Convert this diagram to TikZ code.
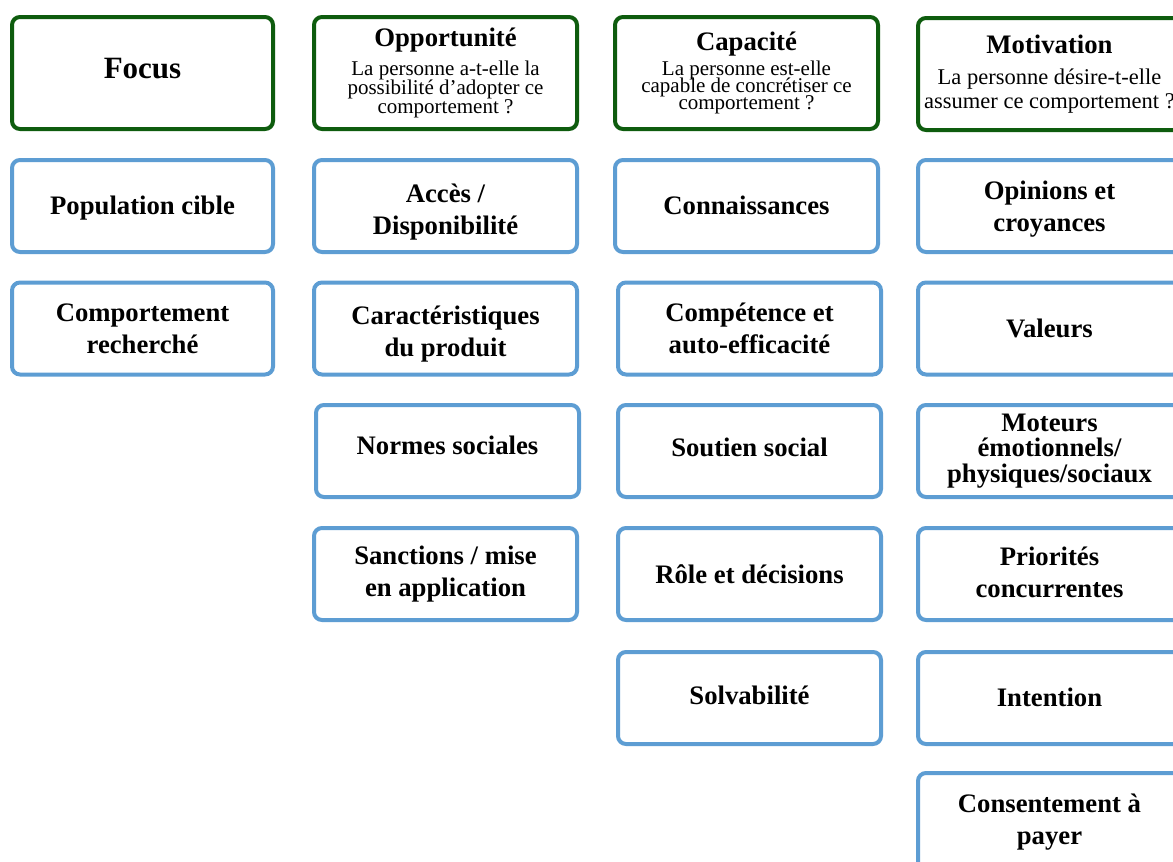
\documentclass[tikz,border=0pt]{standalone}
\usepackage{fontspec}
\setmainfont{Liberation Serif}
\definecolor{hdrgreen}{RGB}{14,92,14}
\definecolor{itmblue}{RGB}{93,157,211}
\newcommand{\nolsl}{\lineskiplimit=-100pt\relax}
\tikzset{
  hdr/.style={draw=hdrgreen, line width=4pt, rounded corners=8pt, fill=white, align=center, inner sep=0pt,
              minimum width=263pt, minimum height=112pt},
  itm/.style={draw=itmblue, line width=4pt, rounded corners=8pt, fill=white, align=center, inner sep=0pt,
              minimum width=263pt, minimum height=92pt,
              font={\fontsize{26.7}{32}\selectfont\bfseries\nolsl}},
  tb/.style 2 args={text height=#1, text depth=#2},
}
\newcommand{\hdtitle}[1]{{\fontsize{26.7}{30}\selectfont\bfseries #1}}
\begin{document}
\begin{tikzpicture}[x=1pt,y=-1pt]
\useasboundingbox (0,0) rectangle (1173,862);
\clip (0,0) rectangle (1173,862);
\fill[white] (0,0) rectangle (1173,862);

% Column 1
\node[hdr, minimum width=261pt, font={\fontsize{31}{34}\selectfont\bfseries}, tb={21pt}{10pt}] (focus) at (142.5,73) {Focus};
\node[itm, minimum width=261pt, tb={18pt}{2pt}] (pop) at (142.5,206) {Population cible};
\node[itm, minimum width=261pt] (comp) at (142.5,328.5) {Comportement\\recherché};

% Column 2
\node[hdr, font={\fontsize{21}{19}\selectfont\nolsl}] (opp) at (445.5,73) {\hdtitle{Opportunité}\\[10pt]La personne a-t-elle la\\possibilité d’adopter ce\\comportement ?};
\node[itm, tb={56pt}{0pt}] (acces) at (445.5,206) {Accès /\\Disponibilité};
\node[itm, tb={56pt}{0pt}] (carac) at (445.5,328.5) {Caractéristiques\\du produit};
\node[itm, tb={18pt}{12pt}] (normes) at (447.5,451) {Normes sociales};
\node[itm] (sanc) at (445.5,574) {Sanctions / mise\\en application};

% Column 3
\node[hdr, font={\fontsize{21}{17.4}\selectfont\nolsl}] (capa) at (746.5,73) {\hdtitle{Capacité}\\[7.6pt]La personne est-elle\\capable de concrétiser ce\\comportement ?};
\node[itm, tb={18pt}{2pt}] (conn) at (746.5,206) {Connaissances};
\node[itm] (compet) at (749.5,328.5) {Compétence et\\auto-efficacité};
\node[itm, tb={18pt}{8pt}] (soutien) at (749.5,451) {Soutien social};
\node[itm, tb={18pt}{0pt}] (role) at (749.5,574) {Rôle et décisions};
\node[itm, tb={18pt}{6pt}] (solv) at (749.5,698) {Solvabilité};

% Column 4
\node[hdr, font={\fontsize{22.5}{23.5}\selectfont\nolsl}] (motiv) at (1049.5,74) {\hdtitle{Motivation}\\[8.2pt]La personne désire-t-elle\\assumer ce comportement ?};
\node[itm, tb={50pt}{0pt}] (opin) at (1049.5,206) {Opinions et\\croyances};
\node[itm, tb={18pt}{0pt}] (val) at (1049.5,328.5) {Valeurs};
\node[itm, font={\fontsize{26.7}{25.5}\selectfont\bfseries\nolsl}] (mot) at (1049.5,451) {Moteurs\\émotionnels/\\physiques/sociaux};
\node[itm, tb={50pt}{4pt}] (prio) at (1049.5,574) {Priorités\\concurrentes};
\node[itm, tb={18pt}{2pt}] (inten) at (1049.5,698) {Intention};
\node[itm, minimum height=110pt, tb={50pt}{18pt}] (consent) at (1049.5,828) {Consentement à\\payer};
\end{tikzpicture}
\end{document}
